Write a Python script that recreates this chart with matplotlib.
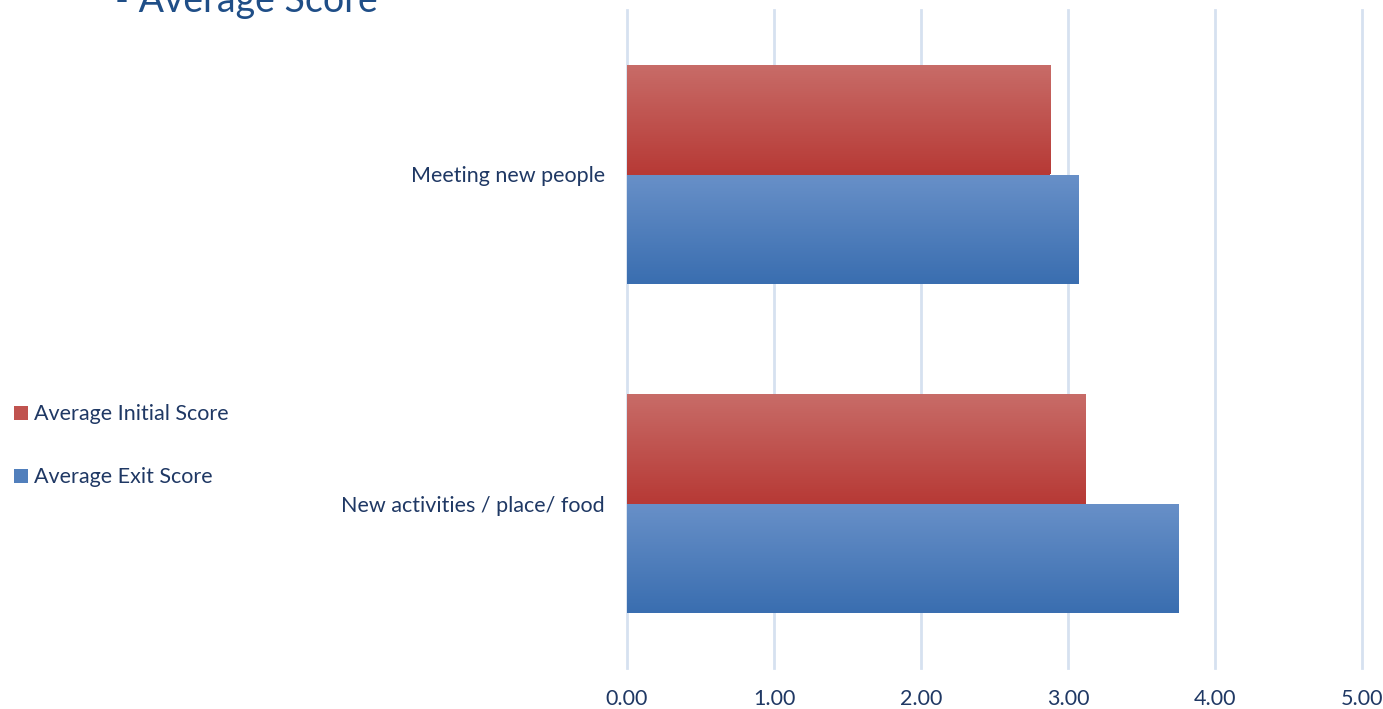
import numpy as np
import matplotlib
matplotlib.use("Agg")
import matplotlib.pyplot as plt
from matplotlib.patches import Patch

# Datos
categorias = ['New activities / place/ food', 'Meeting new people']
inicial = [3.12, 2.88]
salida = [3.75, 3.07]
series = ['Average Initial Score', 'Average Exit Score']

plt.rcParams['font.family'] = ['Lato', 'DejaVu Sans']
texto = '#1f3864'
fs = 15.5
rojo_top, rojo_bot = np.array([200, 108, 104]) / 255, np.array([183, 58, 54]) / 255
azul_top, azul_bot = np.array([104, 144, 200]) / 255, np.array([58, 110, 176]) / 255

fig = plt.figure(figsize=(13.83, 7.09), dpi=100)
ax = fig.add_axes([627 / 1383, 1 - 668 / 709, 735 / 1383, 658 / 709])

y = np.arange(len(categorias))
h = 1 / 3
b_ini = ax.barh(y + h / 2, inicial, height=h, color=rojo_bot, zorder=2)
b_sal = ax.barh(y - h / 2, salida, height=h, color=azul_bot, zorder=2)


def degradado(barras, top, bot):
    # gradiente vertical dentro de cada barra
    t = np.linspace(0, 1, 64)[:, None]
    img = top[None, :] * (1 - t[..., None]) + bot[None, :] * t[..., None]
    img = np.repeat(img, 2, axis=1)
    for r in barras:
        x0, y0 = r.get_x(), r.get_y()
        w, hh = r.get_width(), r.get_height()
        im = ax.imshow(img, extent=[x0, x0 + w, y0, y0 + hh], origin='upper',
                       aspect='auto', zorder=3, interpolation='bilinear')
        im.set_clip_path(r)


degradado(b_ini, rojo_top, rojo_bot)
degradado(b_sal, azul_top, azul_bot)

ax.set_xlim(0, 5)
ax.set_ylim(-0.5, 1.5)
ax.set_xticks(np.arange(0, 6, 1))
ax.set_xticklabels([f'{v:.2f}' for v in range(6)], fontsize=fs, color=texto)
ax.set_yticks(y)
ax.set_yticklabels(categorias, fontsize=fs, color=texto)
ax.tick_params(length=0, pad=16, axis='y')
ax.tick_params(length=0, pad=15, axis='x')
ax.grid(axis='x', color='#d6e1f0', linewidth=2, zorder=0)
for gl in ax.get_xgridlines():
    gl.set_clip_on(False)
ax.set_axisbelow(True)
for s in ax.spines.values():
    s.set_visible(False)

handles = [Patch(facecolor=(rojo_top + rojo_bot) / 2), Patch(facecolor=(azul_top + azul_bot) / 2)]
leg = fig.legend(handles, series, loc='upper left', bbox_to_anchor=(-0.004, 1 - 385 / 709),
                 frameon=False, fontsize=fs, handlelength=0.65, handleheight=0.65,
                 handletextpad=0.3, labelspacing=2.0)
for t in leg.get_texts():
    t.set_color(texto)

fig.text(115 / 1383, 1 - 12 / 709, '- Average Score', fontsize=27, color='#1f4e87',
         va='baseline', ha='left')

fig.savefig('out.png', dpi=100)
